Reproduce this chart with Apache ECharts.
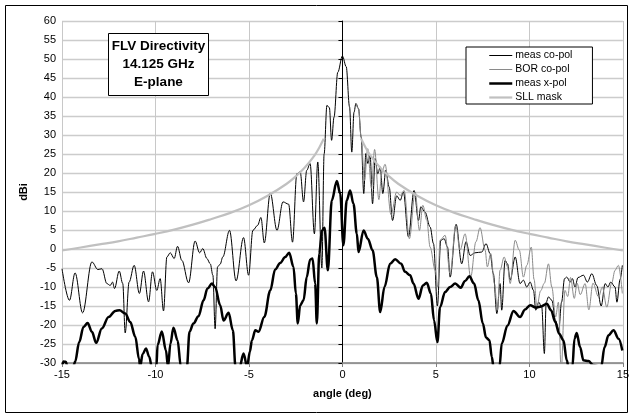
<!DOCTYPE html>
<html>
<head>
<meta charset="utf-8">
<script src="https://cdn.jsdelivr.net/npm/echarts@6/dist/echarts.min.js"></script>
<style>
html,body{margin:0;padding:0;background:#fff;}
#chart{width:632px;height:419px;}
</style>
</head>
<body>
<div id="chart"></div>
<script>
// ---- data ----
var xTicks = [-15, -10, -5, 0, 5, 10, 15];
var yTicks = [-30, -25, -20, -15, -10, -5, 0, 5, 10, 15, 20, 25, 30, 35, 40, 45, 50, 55, 60];

var coAngles = [-15.0,-14.6,-14.3,-13.9,-13.4,-13.08,-12.86,-12.6,-12.42,-12.3,-12.19,-11.94,-11.75,-11.62,-11.41,-11.14,-10.86,-10.64,-10.37,-10.16,-9.93,-9.75,-9.57,-9.39,-9.21,-9.0,-8.82,-8.59,-8.23,-7.88,-7.64,-7.47,-7.25,-7.07,-6.93,-6.81,-6.68,-6.54,-6.4,-6.04,-5.69,-5.29,-5.02,-4.79,-4.54,-4.36,-4.18,-3.86,-3.5,-3.18,-2.88,-2.67,-2.44,-2.26,-2.08,-1.91,-1.73,-1.5,-1.32,-1.1,-0.98,-0.83,-0.7,-0.58,-0.45,-0.25,0,0.2,0.38,0.5,0.62,0.72,0.86,1.0,1.14,1.25,1.36,1.48,1.61,1.75,1.89,2.02,2.16,2.32,2.5,2.68,2.9,3.09,3.26,3.53,3.83,4.07,4.19,4.42,4.69,4.87,5.08,5.26,5.44,5.62,5.76,6.08,6.38,6.61,6.83,7.09,7.45,7.68,7.9,8.07,8.26,8.43,8.52,8.7,8.83,8.97,9.24,9.5,9.68,9.86,10.04,10.22,10.34,10.5,10.66,10.8,10.9,11.02,11.2,11.4,11.57,11.72,11.88,12.0,12.18,12.3,12.44,12.6,12.89,13.1,13.34,13.6,13.84,14.05,14.2,14.35,14.58,14.68,14.85,14.97];
var coValues = [-5.2,-13.5,-6.3,-16.8,-3.4,-5.4,-5.2,-9.1,-9.6,-8.7,-10.4,-5.8,-9.1,-22.1,-8.7,-4.3,-11.7,-5.8,-13.9,-6.0,-10.9,-7.8,-16.3,-2.1,-1.0,-2.5,0.7,-3.0,-8.9,2.1,-1.0,0.1,-2.5,-3.9,-6.9,-21.0,-4.7,-4.0,-2.1,4.9,-8.4,3.0,-6.9,4.9,6.2,8.3,1.6,14.7,4.9,12.4,11.8,1.8,19.8,20.3,12.4,20.7,22.5,4.0,22.9,-5.0,25.0,37.8,37.2,28.6,34.7,46.5,50.8,48.0,37.4,25.5,36.0,38.3,36.9,29.5,14.6,25.1,22.5,24.7,11.9,23.8,19.8,21.6,14.6,20.7,16.3,7.5,14.0,12.8,15.0,3.2,15.4,7.5,11.1,9.7,5.8,1.4,-15.0,2.3,2.7,0.5,-7.4,6.5,-3.9,1.9,-1.7,-1.0,-0.8,1.4,-1.2,-6.5,-17.0,-9.1,-16.1,-3.0,-3.9,-8.2,-2.1,-9.1,-8.2,-10.0,-8.7,-10.9,-16.1,-14.0,-15.3,-27.5,-14.0,-12.6,-13.5,-18.8,-21.4,-14.0,-7.8,-7.4,-8.7,-7.8,-10.0,-7.5,-6.9,-8.7,-6.5,-9.6,-15.0,-9.1,-10.0,-8.7,-10.0,-14.0,-8.0,-4.3];

var borAngles = [0.72,0.86,1.0,1.18,1.35,1.55,1.72,1.95,2.1,2.28,2.6,2.9,3.09,3.3,3.58,3.89,4.12,4.3,4.51,4.69,4.96,5.1,5.22,5.49,5.76,6.06,6.29,6.56,6.86,7.14,7.36,7.63,7.75,7.93,8.13,8.29,8.43,8.65,8.83,8.97,9.24,9.46,9.68,9.86,10.1,10.25,10.4,10.6,10.8,11.02,11.2,11.4,11.55,11.7,11.9,12.05,12.2,12.4,12.55,12.72,12.98,13.18,13.4,13.7,13.9,14.14,14.4,14.58,14.76,14.97];
var borValues = [38.3,36.9,29.5,18.0,26.4,16.0,26.2,13.0,20.0,22.3,9.0,15.0,14.1,15.4,2.7,15.0,4.9,11.5,7.6,0.5,-5.6,-10.0,2.3,3.6,-6.5,6.2,-0.3,4.0,-7.4,1.9,5.6,-0.3,-4.7,-1.2,-9.1,-16.1,-5.6,-2.1,-4.7,-9.1,2.3,-0.3,-7.4,-4.3,0.5,-8.0,-15.3,-11.0,-9.0,-3.9,-10.0,-17.9,-14.0,-32.0,-10.9,-12.5,-7.5,-13.0,-9.0,-12.0,-9.1,-16.0,-9.0,-12.6,-10.0,-15.3,-9.0,-5.6,-4.3,-11.7];

var xpAngles = [-15.0,-14.92,-14.8,-14.7,-14.4,-14.3,-14.08,-13.85,-13.63,-13.4,-13.17,-12.87,-12.51,-12.15,-11.92,-11.62,-11.35,-11.08,-10.88,-10.82,-10.69,-10.51,-10.33,-10.2,-9.95,-9.89,-9.66,-9.44,-9.33,-9.2,-9.04,-8.82,-8.64,-8.32,-8.18,-7.97,-7.7,-7.43,-7.22,-6.98,-6.81,-6.54,-6.36,-6.09,-5.86,-5.72,-5.5,-5.29,-5.1,-4.95,-4.84,-4.66,-4.49,-4.18,-3.86,-3.6,-3.33,-3.06,-2.85,-2.62,-2.49,-2.39,-2.26,-2.08,-1.91,-1.73,-1.6,-1.46,-1.37,-1.24,-1.1,-0.96,-0.78,-0.57,-0.3,-0.12,0.05,0.23,0.41,0.59,0.77,0.86,1.13,1.36,1.61,1.84,2.02,2.25,2.55,2.82,3.14,3.35,3.62,3.8,4.07,4.3,4.51,4.73,4.9,5.08,5.22,5.49,5.76,6.03,6.33,6.56,6.79,7.04,7.27,7.51,7.68,7.86,7.99,8.08,8.4,8.52,8.83,9.15,9.5,9.77,10.04,10.34,10.63,10.93,11.16,11.38,11.59,11.82,12.0,12.09,12.3,12.41,12.53,12.71,12.89,13.16,13.4,13.84,14.02,14.23,14.5,14.77,14.97];
var xpValues = [-31.0,-29.6,-29.7,-31.0,-31.0,-29.7,-24.5,-20.5,-19.5,-21.8,-24.7,-20.9,-17.9,-16.3,-16.1,-17.0,-19.2,-23.1,-29.0,-31.0,-27.7,-26.2,-28.4,-31.0,-31.0,-25.3,-21.7,-26.7,-31.0,-24.9,-20.7,-24.0,-31.0,-31.0,-21.8,-19.6,-17.7,-13.5,-10.4,-9.1,-10.0,-14.8,-18.8,-16.8,-21.4,-31.0,-31.0,-27.5,-31.0,-27.0,-24.0,-21.4,-21.8,-17.9,-10.9,-5.4,-3.7,-2.1,-1.0,-4.7,-11.7,-19.6,-14.8,-13.5,-7.4,-2.8,-2.5,-9.1,-19.6,-1.2,4.9,5.6,-5.6,12.8,17.9,14.6,1.0,12.8,15.4,11.9,4.0,-0.8,4.9,2.7,-0.3,-7.4,-16.6,-10.0,-3.9,-2.7,-3.9,-6.0,-6.9,-9.1,-13.1,-9.6,-8.9,-11.7,-18.8,-24.5,-15.3,-11.3,-10.0,-9.1,-10.2,-8.4,-7.2,-9.1,-13.5,-19.6,-23.3,-24.0,-28.4,-31.0,-31.0,-24.9,-20.1,-16.3,-17.9,-15.9,-14.8,-15.4,-15.1,-14.4,-16.1,-19.2,-22.3,-24.0,-29.3,-31.0,-31.0,-23.6,-22.1,-25.8,-29.3,-29.5,-30.5,-31.0,-25.8,-22.7,-21.4,-23.6,-26.7];

var sllAngles = [-15,-14,-13,-12,-11,-10,-9,-8,-7,-6,-5,-4,-3,-2.5,-2,-1.5,-1.25,-1.0,0,1.0,1.25,1.5,2,2.5,3,4,5,6,7,8,9,10,11,12,13,14,15];
var sllValues = [-0.4,0.4,1.2,2.0,3.0,4.0,5.1,6.4,7.9,9.5,11.5,14.0,17.1,19.1,21.5,24.6,26.6,29.0,null,29.0,26.6,24.6,21.5,19.1,17.1,14.0,11.5,9.5,7.9,6.4,5.1,4.0,3.0,2.0,1.2,0.4,-0.4];

var seriesNames = ['meas co-pol', 'BOR co-pol', 'meas x-pol', 'SLL mask'];
var titleLines = ['FLV Directivity', '14.125 GHz', 'E-plane'];

function zip(a, b) { return a.map(function (v, i) { return [v, b[i]]; }); }

var FONT = 'Arial, "Liberation Sans", sans-serif';
var lineStyles = [
  { color: '#000000', width: 1 },
  { color: '#8a8a8a', width: 1 },
  { color: '#000000', width: 2.5 },
  { color: '#c0c0c0', width: 2.2 }
];
var chart = echarts.init(document.getElementById('chart'), null, { renderer: 'canvas' });

chart.setOption({
  animation: false,
  backgroundColor: '#ffffff',
  grid: { left: 62, right: 9, top: 21, bottom: 56, containLabel: false },
  xAxis: {
    type: 'value', min: xTicks[0], max: xTicks[xTicks.length - 1], interval: 5,
    name: 'angle (deg)', nameLocation: 'middle', nameGap: 25,
    nameTextStyle: { fontFamily: FONT, fontSize: 11, fontWeight: 'bold', color: '#000' },
    axisLine: { show: true, onZero: false, lineStyle: { color: '#808080', width: 1.5 } },
    axisTick: { show: true, inside: false, length: 4, lineStyle: { color: '#808080' } },
    axisLabel: { fontFamily: FONT, fontSize: 11, color: '#000', margin: 6 },
    splitLine: { show: true, lineStyle: { color: '#c8c8c8', width: 1 } }
  },
  yAxis: {
    type: 'value', min: yTicks[0], max: yTicks[yTicks.length - 1], interval: 5,
    name: 'dBi', nameLocation: 'middle', nameGap: 29, nameRotate: 90,
    nameTextStyle: { fontFamily: FONT, fontSize: 11, fontWeight: 'bold', color: '#000' },
    axisLine: { show: true, lineStyle: { color: '#000', width: 1 } },
    axisTick: { show: true, inside: false, length: 4, lineStyle: { color: '#000' } },
    axisLabel: { fontFamily: FONT, fontSize: 11, color: '#000', margin: 6 },
    splitLine: { show: true, lineStyle: { color: '#cccccc', width: 1.3 } }
  },
  legend: {
    orient: 'vertical', left: 466, top: 47,
    padding: [3, 20, 1, 22],
    itemWidth: 23, itemHeight: 10, itemGap: 3,
    borderColor: '#000', borderWidth: 1, backgroundColor: '#fff',
    selectedMode: false,
    itemStyle: { opacity: 0, borderWidth: 0 },
    textStyle: { fontFamily: FONT, fontSize: 10.5, color: '#000', padding: [0, 0, 0, -2] },
    data: seriesNames.map(function (n, i) { return { name: n, lineStyle: lineStyles[i] }; })
  },
  graphic: [
    { type: 'rect', shape: { x: 5.5, y: 5.5, width: 622, height: 407 },
      style: { fill: 'none', stroke: '#000', lineWidth: 1 }, silent: true, z: -1 },
    { type: 'rect', shape: { x: 108.5, y: 33.5, width: 100, height: 62 },
      style: { fill: '#fff', stroke: '#000', lineWidth: 1 }, z: 50 },
    { type: 'text', x: 158.5, y: 37.5, z: 51,
      style: { text: titleLines.join('\n'), fill: '#000', font: 'bold 13.5px ' + FONT,
               textAlign: 'center', textVerticalAlign: 'top', lineHeight: 18 } }
  ],
  series: [
    { name: seriesNames[0], type: 'line', data: zip(coAngles, coValues), symbol: 'none',
      smooth: 0.35, smoothMonotone: 'x', clip: true,
      lineStyle: lineStyles[0], itemStyle: { color: lineStyles[0].color }, z: 2 },
    { name: seriesNames[1], type: 'line', data: zip(borAngles, borValues), symbol: 'none',
      smooth: 0.35, smoothMonotone: 'x', clip: true,
      lineStyle: lineStyles[1], itemStyle: { color: lineStyles[1].color }, z: 3 },
    { name: seriesNames[2], type: 'line', data: zip(xpAngles, xpValues), symbol: 'none',
      smooth: 0.35, smoothMonotone: 'x', clip: true,
      lineStyle: lineStyles[2], itemStyle: { color: lineStyles[2].color }, z: 4 },
    { name: seriesNames[3], type: 'line', data: zip(sllAngles, sllValues), symbol: 'none',
      smooth: 0.4, connectNulls: false, clip: true,
      lineStyle: lineStyles[3], itemStyle: { color: lineStyles[3].color }, z: 5 }
  ]
});
</script>
</body>
</html>
